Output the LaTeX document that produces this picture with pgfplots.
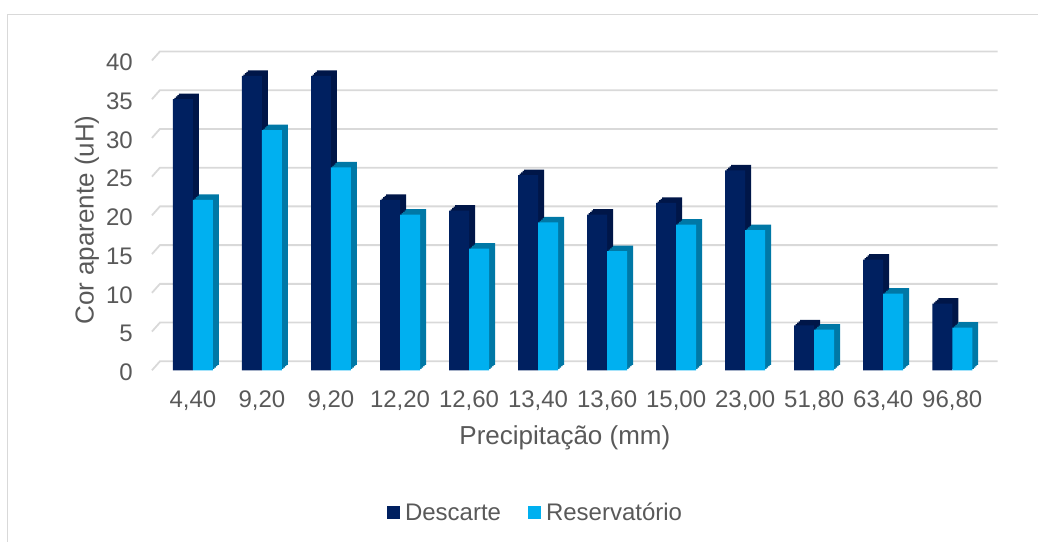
\documentclass[border=0pt]{standalone}
\usepackage{pgfplots}
\pgfplotsset{compat=1.18}
\usepackage{pgfplotstable}
\usepackage{fontspec}
\setmainfont{Liberation Sans}
\definecolor{txt}{HTML}{595959}
\definecolor{gridc}{HTML}{D9D9D9}
\definecolor{desc}{HTML}{002060}
\definecolor{descside}{HTML}{001648}
\definecolor{res}{HTML}{00B0F0}
\definecolor{resside}{HTML}{0078A6}

\pgfplotstableread{
x d r
0 35 22
1 38 31
2 38 26.2
3 22 20.1
4 20.6 15.7
5 25.2 19.1
6 20.1 15.4
7 21.6 18.8
8 25.8 18.1
9 5.8 5.25
10 14.3 9.9
11 8.6 5.5
}\data

\newcommand{\behind}[4]{% column, bar shift, y shift, colour
  \addplot[ybar, bar width=20pt, bar shift=#2, yshift=#3, fill=#4, draw=none, forget plot] table[x=x,y=#1]{\data};
}

\begin{document}
\begin{tikzpicture}
\path (0,0) rectangle (1038pt,542pt);
\draw[gridc, line width=1pt] (7.5pt,0pt) -- (7.5pt,527.5pt) -- (1038pt,527.5pt);
\begin{axis}[
  at={(152pt,171.5pt)}, anchor=south west,
  scale only axis, width=838pt, height=310pt,
  xmin=-0.594, xmax=11.54, ymin=0, ymax=40,
  clip=false, set layers=standard,
  axis line style={draw=none}, major tick length=0pt,
  xtick={0,...,11},
  xticklabels={{4,40},{9,20},{9,20},{12,20},{12,60},{13,40},{13,60},{15,00},{23,00},{51,80},{63,40},{96,80}},
  ytick={0,5,...,40},
  /pgf/number format/assume math mode=true,
  tick label style={font=\fontsize{24}{28}\selectfont, text=txt},
  xticklabel style={inner sep=0pt, anchor=north, yshift=-20pt},
  yticklabel style={inner sep=0pt, anchor=east, xshift=-19pt, yshift=-2pt},
  xlabel={Precipitação (mm)},
  ylabel={Cor aparente (uH)},
  label style={font=\fontsize{26}{30}\selectfont, text=txt},
  xlabel style={at={(axis description cs:0.493,-0.218)}, anchor=center},
  ylabel style={at={(axis description cs:-0.0776,0.485)}, anchor=center},
  legend style={at={(axis description cs:0.458,-0.46)}, anchor=center, draw=none, fill=none,
    legend columns=2, font=\fontsize{24}{28}\selectfont, text=txt,
    /tikz/every odd column/.append style={column sep=3pt},
    /tikz/every even column/.append style={column sep=25pt}},
  legend image code/.code={\fill[#1,/tikz/.cd, draw=none] (0pt,-6.5pt) rectangle (13pt,6.5pt);},
]
\pgfplotsinvokeforeach{0,5,...,40}{
  \draw[gridc, line width=1.8pt, on layer=axis background]
    (axis cs:-0.594,#1) -- ++(8pt,9pt) -- ([shift={(8pt,9pt)}]axis cs:11.54,#1);
}
\behind{d}{-8.5pt}{1.375pt}{descside}
\behind{d}{-7pt}{2.75pt}{descside}
\behind{d}{-5.5pt}{4.125pt}{descside}
\behind{d}{-4pt}{5.5pt}{descside}
\addplot[ybar, bar width=20pt, bar shift=-10pt, fill=desc, draw=none] table[x=x,y=d]{\data};
\behind{r}{11.5pt}{1.375pt}{resside}
\behind{r}{13pt}{2.75pt}{resside}
\behind{r}{14.5pt}{4.125pt}{resside}
\behind{r}{16pt}{5.5pt}{resside}
\addplot[ybar, bar width=20pt, bar shift=10pt, fill=res, draw=none] table[x=x,y=r]{\data};
\legend{Descarte, Reservatório}
\end{axis}
\end{tikzpicture}
\end{document}
